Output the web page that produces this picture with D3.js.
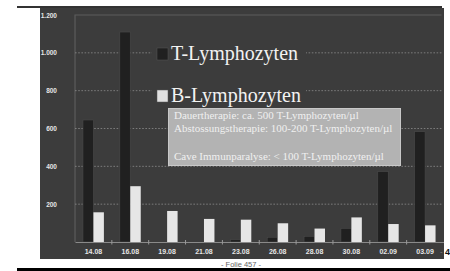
<!DOCTYPE html>
<html>
<head>
<meta charset="utf-8">
<script src="https://cdn.jsdelivr.net/npm/d3@7"></script>
<style>
  body { margin: 0; background: #fff; }
  svg { display: block; }
</style>
</head>
<body>
<div id="chart"></div>
<script>
// data
var categories = ["14.08", "16.08", "19.08", "21.08", "23.08", "26.08", "28.08", "30.08", "02.09", "03.09"];
var tValues = [645, 1110, 0, 0, 12, 25, 30, 72, 372, 583];
var bValues = [157, 295, 164, 122, 118, 99, 71, 130, 95, 88];
var seriesNames = ["T-Lymphozyten", "B-Lymphozyten"];
var yTicks = [200, 400, 600, 800, 1000, 1200];
var noteLines = [
  "Dauertherapie: ca. 500 T-Lymphozyten/\u00b5l",
  "Abstossungstherapie: 100-200 T-Lymphozyten/\u00b5l",
  "",
  "Cave Immunparalyse: < 100 T-Lymphozyten/\u00b5l"
];

var width = 450, height = 271;
var plotLeft = 75, plotRight = 443.5, plotTop = 15, plotBottom = 242;

var svg = d3.select("#chart").append("svg")
    .attr("width", width)
    .attr("height", height);

// slide frame
svg.append("rect").attr("x", 17).attr("y", 6).attr("width", 425).attr("height", 2).attr("fill", "#333");
svg.append("rect").attr("x", 40).attr("y", 8).attr("width", 404).attr("height", 251).attr("fill", "#3c3c3c");
svg.append("rect").attr("x", 17).attr("y", 268).attr("width", 433).attr("height", 3).attr("fill", "#000");

var x0 = d3.scaleBand().domain(categories).range([plotLeft, plotRight]).padding(0);
var x1 = d3.scaleBand().domain(seriesNames).range([0, x0.bandwidth()]).paddingOuter(0.76).paddingInner(0);
var y = d3.scaleLinear().domain([0, 1200]).range([plotBottom, plotTop]);

var de = d3.formatLocale({decimal: ",", thousands: ".", grouping: [3], currency: ["", "\u20ac"]});
var fmt = de.format(",d");

// inner frame
svg.append("path")
    .attr("d", "M" + plotLeft + "," + plotBottom + "V" + plotTop + "H" + (plotRight - 2))
    .attr("fill", "none")
    .attr("stroke", "#5c5c5c")
    .attr("stroke-width", 1.2);

// dotted grid
svg.selectAll(".grid")
    .data(yTicks.slice(0, -1))
    .enter().append("line")
    .attr("x1", plotLeft).attr("x2", plotRight - 2)
    .attr("y1", function(d) { return y(d); })
    .attr("y2", function(d) { return y(d); })
    .attr("stroke", "#8c8c8c")
    .attr("stroke-width", 0.8)
    .attr("stroke-dasharray", "1.6,1.6");

// y labels
var yAxis = svg.append("g")
    .attr("transform", "translate(57,0)")
    .call(d3.axisLeft(y).tickValues(yTicks).tickFormat(fmt).tickSize(0));
yAxis.select(".domain").remove();
yAxis.selectAll("text")
    .attr("x", 0)
    .attr("fill", "#e6e6e6")
    .style("font-family", "Liberation Sans, Arial, sans-serif")
    .style("font-size", "6.5px")
    .style("font-weight", "bold");

// bars
var group = svg.selectAll(".cat")
    .data(categories)
    .enter().append("g")
    .attr("transform", function(d) { return "translate(" + x0(d) + ",0)"; });

group.append("rect")
    .attr("x", x1(seriesNames[0]))
    .attr("width", x1.bandwidth())
    .attr("y", function(d, i) { return y(tValues[i]); })
    .attr("height", function(d, i) { return plotBottom - y(tValues[i]); })
    .attr("fill", "#202020")
    .attr("stroke", function(d, i) { return tValues[i] > 0 ? "#4a4a4a" : "none"; })
    .attr("stroke-width", 0.6);

group.append("rect")
    .attr("x", x1(seriesNames[1]))
    .attr("width", x1.bandwidth())
    .attr("y", function(d, i) { return y(bValues[i]); })
    .attr("height", function(d, i) { return plotBottom - y(bValues[i]); })
    .attr("fill", "#e6e6e6");

// x axis
var xAxis = svg.append("g")
    .attr("transform", "translate(0," + plotBottom + ")")
    .call(d3.axisBottom(x0).tickSize(0).tickPadding(7));
xAxis.select(".domain").attr("stroke", "#8a8a8a").attr("stroke-width", 1);
xAxis.selectAll("text")
    .attr("fill", "#e6e6e6")
    .style("font-family", "Liberation Sans, Arial, sans-serif")
    .style("font-size", "7px")
    .style("font-weight", "bold");

svg.selectAll(".sep")
    .data(categories.slice(1))
    .enter().append("line")
    .attr("x1", function(d) { return x0(d); })
    .attr("x2", function(d) { return x0(d); })
    .attr("y1", plotBottom - 2).attr("y2", plotBottom + 2.5)
    .attr("stroke", "#9a9a9a")
    .attr("stroke-width", 1);

// legend, on its own panel-coloured patch over the grid
svg.append("rect").attr("x", 152).attr("y", 40).attr("width", 154).attr("height", 68).attr("fill", "#3c3c3c");
var legend = svg.selectAll(".legend")
    .data(seriesNames)
    .enter().append("g")
    .attr("transform", function(d, i) { return "translate(157," + (48 + i * 42) + ")"; });
legend.append("rect")
    .attr("width", 11).attr("height", 12)
    .attr("fill", function(d, i) { return i === 0 ? "#202020" : "#e0e0e0"; })
    .attr("stroke", "#555").attr("stroke-width", 0.5);
legend.append("text")
    .attr("x", 14).attr("y", 12)
    .attr("fill", "#f2f2f2")
    .style("font-family", "Liberation Serif, Times New Roman, serif")
    .style("font-size", "20px")
    .text(function(d) { return d; });

// note box
svg.append("rect")
    .attr("x", 168.5).attr("y", 108.5).attr("width", 232).attr("height", 57)
    .attr("fill", "#b3b3b3")
    .attr("stroke", "#c8c8c8").attr("stroke-width", 1);
svg.append("g").selectAll("text")
    .data(noteLines)
    .enter().append("text")
    .attr("x", 174)
    .attr("y", function(d, i) { return 118.5 + i * 13.9; })
    .attr("fill", "#f0f0f0")
    .style("font-family", "Liberation Serif, Times New Roman, serif")
    .style("font-size", "11px")
    .text(function(d) { return d; });

// footer bits
svg.append("text")
    .attr("x", 241).attr("y", 267)
    .attr("text-anchor", "middle")
    .attr("fill", "#666")
    .style("font-family", "Liberation Sans, Arial, sans-serif")
    .style("font-size", "7.5px")
    .text("- Folie 457 -");
svg.append("text")
    .attr("x", 440).attr("y", 254)
    .attr("fill", "#888")
    .style("font-family", "Liberation Sans, Arial, sans-serif")
    .style("font-size", "8px")
    .text("-");
svg.append("text")
    .attr("x", 445).attr("y", 254.5)
    .attr("fill", "#111")
    .style("font-family", "Liberation Sans, Arial, sans-serif")
    .style("font-size", "9px")
    .style("font-weight", "bold")
    .text("4");
</script>
</body>
</html>
